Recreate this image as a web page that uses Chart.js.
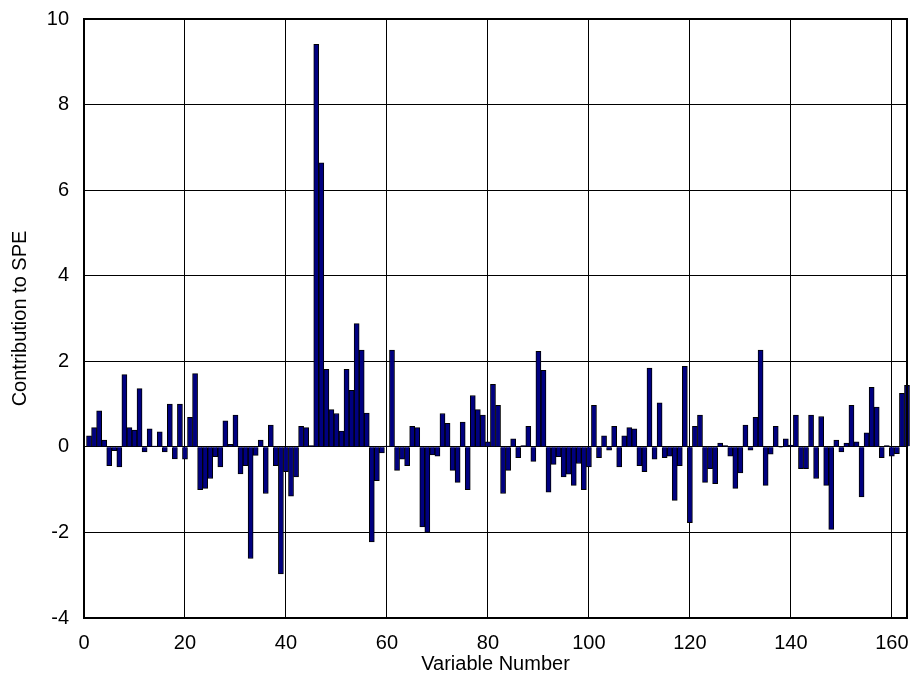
<!DOCTYPE html>
<html>
<head>
<meta charset="utf-8">
<script src="https://cdn.jsdelivr.net/npm/chart.js@4/dist/chart.umd.min.js"></script>
<style>
  html, body { margin: 0; padding: 0; background: #ffffff; }
  #wrap { width: 917px; height: 688px; position: relative; }
</style>
</head>
<body>
<div id="wrap"><canvas id="c" width="917" height="688"></canvas></div>
<script>
// Contribution to SPE for each variable (variables 1..163)
const contributions = [
  0.26, 0.45, 0.84, 0.16, -0.44, -0.09, -0.47, 1.69, 0.45, 0.39,
  1.36, -0.12, 0.42, 0.02, 0.35, -0.12, 1.00, -0.28, 1.00, -0.29,
  0.69, 1.71, -1.00, -0.97, -0.74, -0.23, -0.47, 0.61, 0.06, 0.74,
  -0.63, -0.44, -2.61, -0.20, 0.16, -1.09, 0.51, -0.44, -2.97, -0.58,
  -1.15, -0.70, 0.48, 0.45, 0.03, 9.41, 6.64, 1.81, 0.87, 0.78,
  0.37, 1.81, 1.32, 2.88, 2.26, 0.79, -2.22, -0.79, -0.14, 0.02,
  2.26, -0.55, -0.29, -0.44, 0.48, 0.45, -1.87, -2.00, -0.19, -0.22,
  0.78, 0.55, -0.55, -0.83, 0.58, -1.00, 1.20, 0.87, 0.74, 0.12,
  1.46, 0.97, -1.09, -0.55, 0.19, -0.25, 0.03, 0.48, -0.34, 2.23,
  1.79, -1.06, -0.41, -0.23, -0.70, -0.64, -0.90, -0.39, -1.00, -0.47,
  0.97, -0.25, 0.26, -0.08, 0.48, -0.47, 0.26, 0.45, 0.42, -0.44,
  -0.58, 1.84, -0.29, 1.03, -0.25, -0.22, -1.25, -0.44, 1.88, -1.77,
  0.48, 0.74, -0.83, -0.51, -0.86, 0.09, 0.03, -0.22, -0.97, -0.61,
  0.51, -0.08, 0.69, 2.26, -0.90, -0.17, 0.48, -0.01, 0.19, 0.04,
  0.74, -0.51, -0.51, 0.74, -0.74, 0.71, -0.90, -1.93, 0.16, -0.12,
  0.09, 0.97, 0.12, -1.17, 0.33, 1.39, 0.93, -0.25, 0.03, -0.22,
  -0.16, 1.25, 1.44
];
// Variable numbers (categories) 1..163
const variableNumbers = contributions.map((_, i) => i + 1);
const xTickValues = [0, 20, 40, 60, 80, 100, 120, 140, 160];
const yTickValues = [-4, -2, 0, 2, 4, 6, 8, 10];
const xAxisTitle = 'Variable Number';
const yAxisTitle = 'Contribution to SPE';

const FONT = "'Liberation Sans', Arial, sans-serif";
const points = variableNumbers.map((v, i) => ({ x: v, y: contributions[i] }));

const frame = {
  id: 'frame',
  afterDraw(chart) {
    const a = chart.chartArea, ctx = chart.ctx;
    ctx.save();
    ctx.strokeStyle = '#000';
    ctx.lineWidth = 2;
    ctx.strokeRect(a.left, a.top, a.right - a.left, a.bottom - a.top);
    ctx.restore();
  }
};

new Chart(document.getElementById('c'), {
  type: 'bar',
  data: {
    datasets: [{
      data: points,
      backgroundColor: '#000080',
      borderColor: '#000000',
      borderWidth: 1,
      barPercentage: 1,
      categoryPercentage: 1,
      clip: false
    }]
  },
  options: {
    responsive: false,
    animation: false,
    devicePixelRatio: 1,
    layout: { padding: { left: 0, top: 19, right: 10, bottom: 0 } },
    plugins: { legend: { display: false }, tooltip: { enabled: false } },
    scales: {
      x: {
        type: 'linear',
        min: 0,
        max: 163,
        offset: false,
        grid: { offset: false, color: '#000', lineWidth: 1, drawTicks: false },
        border: { display: true, color: '#000', width: 2 },
        afterBuildTicks(scale) { scale.ticks = xTickValues.map(v => ({ value: v })); },
        afterFit(scale) { scale.height = 70; scale.paddingLeft = 0; scale.paddingRight = 0; },
        ticks: { color: '#000', font: { family: FONT, size: 20 }, padding: 13, maxRotation: 0 },
        title: { display: true, text: xAxisTitle, color: '#000', font: { family: FONT, size: 20 }, padding: { top: 0, bottom: 12 } }
      },
      y: {
        min: -4,
        max: 10,
        grid: { color: '#000', lineWidth: 1, drawTicks: false },
        border: { display: true, color: '#000', width: 2 },
        afterBuildTicks(scale) { scale.ticks = yTickValues.map(v => ({ value: v })); },
        afterFit(scale) { scale.width = 84; scale.paddingTop = 0; scale.paddingBottom = 0; },
        ticks: { color: '#000', font: { family: FONT, size: 20 }, padding: 15 },
        title: { display: true, text: yAxisTitle, color: '#000', font: { family: FONT, size: 20 }, padding: { top: 8, bottom: 0 } }
      }
    }
  },
  plugins: [frame]
});
</script>
</body>
</html>
